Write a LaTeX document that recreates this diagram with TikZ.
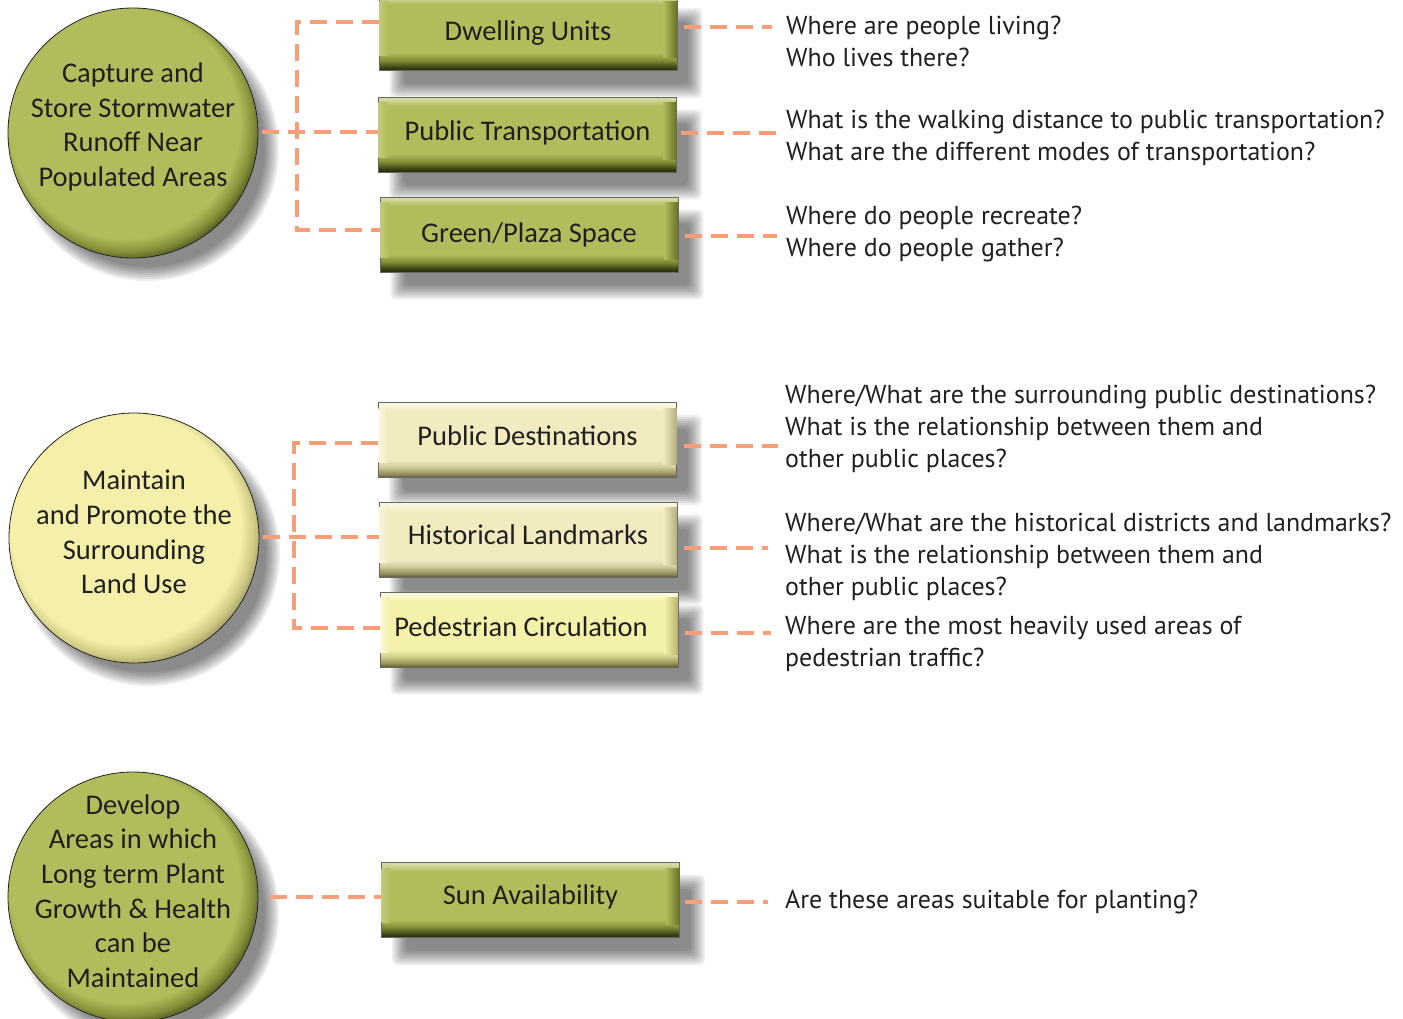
\documentclass[tikz,border=0pt]{standalone}
\usepackage{fontspec}
\setmainfont{Carlito}
\newfontfamily\qfont{PT Sans}
\usetikzlibrary{calc}

\definecolor{gmain}{HTML}{B3BC5C}
\definecolor{gtop}{HTML}{D6DBA3}
\definecolor{gmid}{HTML}{858F38}
\definecolor{gdark}{HTML}{3A4012}
\definecolor{gbot}{HTML}{262A0A}
\definecolor{gedge}{HTML}{687026}
\definecolor{ymain}{HTML}{F3EBC0}
\definecolor{ytop}{HTML}{FBF8E2}
\definecolor{ymid}{HTML}{D2CB9B}
\definecolor{ydark}{HTML}{8E8858}
\definecolor{ybot}{HTML}{5E5A3C}
\definecolor{yedge}{HTML}{B5AE7C}
\definecolor{pmain}{HTML}{F4F2AA}
\definecolor{ptop}{HTML}{FBFADC}
\definecolor{pmid}{HTML}{D3D08C}
\definecolor{pdark}{HTML}{8C894F}
\definecolor{pbot}{HTML}{5C5A36}
\definecolor{pedge}{HTML}{B6B26C}
\definecolor{cymain}{HTML}{F4F0AA}
\definecolor{cymid}{HTML}{CFCA84}
\definecolor{cydark}{HTML}{8F8A55}
\definecolor{conncol}{HTML}{F89F7A}
\definecolor{txt}{HTML}{231F20}

\pgfdeclarelayer{bgwhite}
\pgfdeclarelayer{shadowlayer}
\pgfsetlayers{bgwhite,shadowlayer,main}

\pgfdeclareverticalshading{gboxshade}{100bp}{color(0bp)=(gbot); color(25bp)=(gbot); color(27bp)=(gdark); color(32bp)=(gmid); color(37bp)=(gmain); color(69bp)=(gmain); color(74bp)=(gtop); color(100bp)=(gtop)}
\pgfdeclareverticalshading{yboxshade}{100bp}{color(0bp)=(ybot); color(25bp)=(ybot); color(27bp)=(ydark); color(32bp)=(ymid); color(37bp)=(ymain); color(69bp)=(ymain); color(74bp)=(ytop); color(100bp)=(ytop)}
\pgfdeclareverticalshading{pboxshade}{100bp}{color(0bp)=(pbot); color(25bp)=(pbot); color(27bp)=(pdark); color(32bp)=(pmid); color(37bp)=(pmain); color(69bp)=(pmain); color(74bp)=(ptop); color(100bp)=(ptop)}
\pgfdeclareradialshading{gcircshade}{\pgfpoint{-3bp}{3.5bp}}{color(0bp)=(gmain); color(23bp)=(gmain); color(25.5bp)=(gmid); color(28bp)=(gdark); color(50bp)=(gdark)}
\pgfdeclareradialshading{ycircshade}{\pgfpoint{-3bp}{3.5bp}}{color(0bp)=(cymain); color(23bp)=(cymain); color(25.5bp)=(cymid); color(28bp)=(cydark); color(50bp)=(cydark)}

\newcommand\myboxshadow[1]{%
  \foreach \k in {0,...,7}{%
    \pgfmathsetmacro\dd{-7+2*\k}%
    \fill[black, opacity=0.07, rounded corners=5pt]
      ($(#1.north west)+(18+\dd,20+\dd)$) rectangle ($(#1.south east)+(18-\dd,20-\dd)$);}}
\newcommand\mycircshadow[1]{%
  \foreach \k in {0,...,7}{%
    \pgfmathsetmacro\rr{132-2*\k}%
    \fill[black, opacity=0.07] ($(#1.center)+(14,16)$) circle (\rr);}}
% #1 node, #2 main colour, #3 edge colour, #4 light colour
\newcommand\mybevel[4]{%
  \shade[left color=#2, right color=#3] ($(#1.north east)+(-14,6)$) rectangle ($(#1.south east)+(-0.4,-13)$);
  \shade[left color=#4, right color=#2] ($(#1.north west)+(0.4,6)$) rectangle ($(#1.south west)+(9,-15)$);}

\tikzset{
  boxbase/.style={rectangle, minimum width=298pt, minimum height=75pt, inner sep=0pt,
    draw=black!60, line width=0.8pt, text=txt, font=\fontsize{28.5}{34}\selectfont},
  gbox/.style={boxbase, shading=gboxshade},
  ybox/.style={boxbase, shading=yboxshade},
  pbox/.style={boxbase, shading=pboxshade},
  circbase/.style={circle, minimum size=250pt, inner sep=0pt, draw=black!85, line width=0.8pt},
  gcirc/.style={circbase, shading=gcircshade},
  ycirc/.style={circbase, shading=ycircshade},
  ctext/.style={font=\fontsize{28.5}{34.7}\selectfont, text=txt, align=center, yshift=6pt},
  btext/.style={font=\fontsize{28.5}{34}\selectfont, text=txt, anchor=center},
  quest/.style={anchor=west, inner sep=0pt, align=left, text=txt, font=\qfont\fontsize{25.9}{32}\selectfont},
  conn/.style={draw=conncol, line width=4pt, dash pattern=on 17pt off 9pt}
}

\begin{document}
\begin{tikzpicture}[x=1pt,y=-1pt]
\begin{pgfonlayer}{bgwhite}
\fill[white] (0,0) rectangle (1403,1018);
\end{pgfonlayer}
\useasboundingbox (0,0) rectangle (1403,1018);

% circles
\node[gcirc, label={[ctext]center:{Capture and\\Store Stormwater\\Runoff Near\\Populated Areas}}] (c1) at (133,133) {};
\node[ycirc, label={[ctext]center:{Maintain\\and Promote the\\Surrounding\\Land Use}}] (c2) at (134,538) {};
\node[gcirc, label={[ctext]center:{Develop\\Areas in which\\Long term Plant\\Growth \& Health\\can be\\Maintained}}] (c3) at (133,897) {};

% boxes
\node[gbox] (b1) at (528,33) {};
\node[gbox] (b2) at (527.5,134.5) {};
\node[gbox] (b3) at (529,234.5) {};
\node[ybox] (b4) at (527.5,440) {};
\node[ybox] (b5) at (528,539.5) {};
\node[pbox] (b6) at (529,629.5) {};
\node[gbox] (b7) at (530.5,900) {};

\mybevel{b1}{gmain}{gedge}{gmain!55!gtop}
\mybevel{b2}{gmain}{gedge}{gmain!55!gtop}
\mybevel{b3}{gmain}{gedge}{gmain!55!gtop}
\mybevel{b4}{ymain}{yedge}{ytop}
\mybevel{b5}{ymain}{yedge}{ytop}
\mybevel{b6}{pmain}{pedge}{ptop}
\mybevel{b7}{gmain}{gedge}{gmain!55!gtop}

% box texts
\node[btext] (t1) at ($(b1.center)+(0,0)$) {Dwelling Units};
\node[btext] (t2) at ($(b2.center)+(0,-2)$) {Public Transportation};
\node[btext] (t3) at ($(b3.center)+(0,0)$) {Green/Plaza Space};
\node[btext] (t4) at ($(b4.center)+(0,-4)$) {Public Destinations};
\node[btext] (t5) at ($(b5.center)+(0,-5)$) {Historical Landmarks};
\node[btext] (t6) at ($(b6.center)+(-8,-3)$) {Pedestrian Circulation};
\node[btext] (t7) at ($(b7.center)+(0,-3)$) {Sun Availability};

% shadows
\begin{pgfonlayer}{shadowlayer}
\mycircshadow{c1}\mycircshadow{c2}\mycircshadow{c3}
\myboxshadow{b1}\myboxshadow{b2}\myboxshadow{b3}\myboxshadow{b4}
\myboxshadow{b5}\myboxshadow{b6}\myboxshadow{b7}
\end{pgfonlayer}

% questions
\node[quest] (q1) at (786,41.5) {Where are people living?\\Who lives there?};
\node[quest] (q2) at (786,138) {What is the walking distance to public transportation?\\What are the different modes of transportation?};
\node[quest] (q3) at (786,234) {Where do people recreate?\\Where do people gather?};
\node[quest] (q4) at (785,429) {Where/What are the surrounding public destinations?\\What is the relationship between them and\\other public places?};
\node[quest] (q5) at (785,557) {Where/What are the historical districts and landmarks?\\What is the relationship between them and\\other public places?};
\node[quest] (q6) at (785,644) {Where are the most heavily used areas of\\pedestrian traffic?};
\node[quest] (q7) at (785,902) {Are these areas suitable for planting?};

% junction and end coordinates
\coordinate (j1t) at (297,22);
\coordinate (j1b) at (297,230);
\coordinate (j1m) at (297,132);
\coordinate (j2t) at (294,443);
\coordinate (j2b) at (294,628);
\coordinate (j2m) at (294,537);
\coordinate (j3m) at (300,897);
\coordinate (e1) at (772,27);
\coordinate (e2) at (779,133);
\coordinate (e3) at (777,236);
\coordinate (e4) at (778,446);
\coordinate (e5) at (768,548);
\coordinate (e6) at (771,633);
\coordinate (e7) at (768,902);

% left connectors
\draw[conn] (b1.west |- j1t) -- (j1t) -- (j1b) -- (b3.west |- j1b);
\draw[conn] ($(c1.east |- j1m)+(4,0)$) -- (b2.west |- j1m);
\draw[conn] (b4.west |- j2t) -- (j2t) -- (j2b) -- (b6.west |- j2b);
\draw[conn] ($(c2.east |- j2m)+(4,0)$) -- (b5.west |- j2m);
\draw[conn] ($(c3.east |- j3m)+(12,0)$) -- (b7.west |- j3m);

% right connectors
\draw[conn] ($(b1.east |- e1)+(7,0)$) -- (e1);
\draw[conn] ($(b2.east |- e2)+(4,0)$) -- (e2);
\draw[conn] ($(b3.east |- e3)+(7,0)$) -- (e3);
\draw[conn] ($(b4.east |- e4)+(7,0)$) -- (e4);
\draw[conn] ($(b5.east |- e5)+(7,0)$) -- (e5);
\draw[conn] ($(b6.east |- e6)+(7,0)$) -- (e6);
\draw[conn] ($(b7.east |- e7)+(5,0)$) -- (e7);
\end{tikzpicture}
\end{document}
